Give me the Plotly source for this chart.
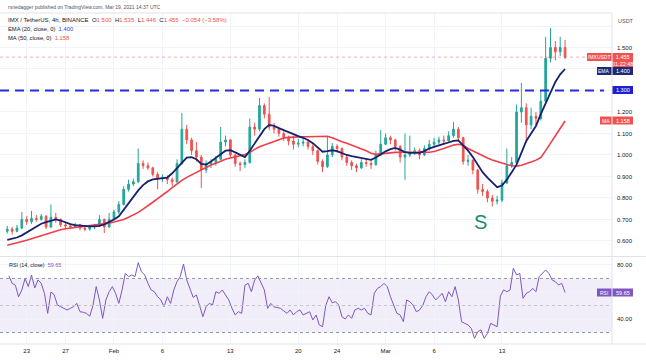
import plotly.graph_objects as go
import pandas as pd

# ---------------- data ----------------
candle_start = "2021-01-21 00:00"   # 12h candles
open_ = [0.645, 0.655, 0.645, 0.66, 0.70, 0.69, 0.705, 0.70, 0.715, 0.665,
         0.71, 0.70, 0.675, 0.67, 0.665, 0.675, 0.66, 0.655, 0.665, 0.67,
         0.70, 0.665, 0.70, 0.735, 0.77, 0.84, 0.865, 0.875, 0.96, 0.95,
         0.94, 0.91, 0.89, 0.895, 0.885, 0.875, 0.96, 1.12, 1.07, 1.02,
         0.99, 0.93, 0.96, 0.965, 0.98, 1.06, 1.07, 1.00, 0.96, 0.955,
         0.965, 1.13, 1.12, 1.23, 1.19, 1.13, 1.12, 1.10, 1.08, 1.065,
         1.05, 1.055, 1.06, 1.04, 1.02, 0.97, 0.945, 1.00, 1.04, 1.03,
         0.99, 0.965, 0.95, 0.94, 0.965, 0.96, 0.955, 1.00, 1.05, 1.08,
         1.07, 1.04, 0.99, 1.00, 1.01, 1.02, 1.00, 1.03, 1.05, 1.06,
         1.07, 1.065, 1.09, 1.12, 1.08, 0.97, 0.975, 0.93, 0.84, 0.83,
         0.80, 0.785, 0.79, 0.87, 0.95, 0.965, 1.20, 1.22, 1.14, 1.18,
         1.17, 1.25, 1.45, 1.50, 1.48, 1.50]
close = [0.655, 0.645, 0.66, 0.70, 0.69, 0.705, 0.70, 0.715, 0.665, 0.71,
         0.70, 0.675, 0.67, 0.665, 0.675, 0.66, 0.655, 0.665, 0.67, 0.70,
         0.665, 0.70, 0.735, 0.77, 0.84, 0.865, 0.875, 0.96, 0.95, 0.94,
         0.91, 0.89, 0.895, 0.885, 0.875, 0.96, 1.12, 1.07, 1.02, 0.99,
         0.93, 0.96, 0.965, 0.98, 1.06, 1.07, 1.00, 0.96, 0.955, 0.965,
         1.13, 1.12, 1.23, 1.19, 1.13, 1.12, 1.10, 1.08, 1.065, 1.05,
         1.055, 1.06, 1.04, 1.02, 0.97, 0.945, 1.00, 1.04, 1.03, 0.99,
         0.965, 0.95, 0.94, 0.965, 0.96, 0.955, 1.00, 1.05, 1.08, 1.07,
         1.04, 0.99, 1.00, 1.01, 1.02, 1.00, 1.03, 1.05, 1.06, 1.07,
         1.065, 1.09, 1.12, 1.08, 0.97, 0.975, 0.93, 0.84, 0.83, 0.80,
         0.785, 0.79, 0.87, 0.95, 0.965, 1.20, 1.22, 1.14, 1.18, 1.17,
         1.25, 1.45, 1.50, 1.48, 1.50, 1.455]
high = [0.67, 0.665, 0.675, 0.735, 0.715, 0.74, 0.72, 0.725, 0.72, 0.77,
        0.73, 0.705, 0.685, 0.68, 0.685, 0.68, 0.668, 0.675, 0.68, 0.72,
        0.705, 0.73, 0.745, 0.785, 0.855, 0.885, 0.89, 1.03, 0.975, 0.965,
        0.945, 0.92, 0.91, 0.905, 0.895, 0.98, 1.195, 1.14, 1.08, 1.06,
        1.0, 0.975, 0.98, 0.995, 1.13, 1.09, 1.075, 1.005, 0.97, 0.98,
        1.17, 1.15, 1.265, 1.24, 1.27, 1.15, 1.13, 1.11, 1.09, 1.09,
        1.075, 1.085, 1.07, 1.05, 1.025, 0.98, 1.084, 1.056, 1.05, 1.035,
        1.0, 0.975, 0.96, 0.98, 0.985, 0.975, 1.02, 1.116, 1.10, 1.09,
        1.075, 1.045, 1.10, 1.09, 1.035, 1.03, 1.045, 1.07, 1.08, 1.085,
        1.09, 1.11, 1.153, 1.13, 1.085, 1.0, 0.98, 0.935, 0.865, 0.84,
        0.815, 0.81, 0.885, 1.03, 0.99, 1.235, 1.335, 1.24, 1.22, 1.20,
        1.30, 1.55, 1.59, 1.53, 1.55, 1.535]
low = [0.635, 0.63, 0.64, 0.655, 0.675, 0.68, 0.69, 0.695, 0.655, 0.66,
       0.685, 0.665, 0.66, 0.655, 0.66, 0.65, 0.645, 0.648, 0.655, 0.665,
       0.637, 0.66, 0.695, 0.725, 0.765, 0.83, 0.855, 0.87, 0.935, 0.93,
       0.90, 0.84, 0.875, 0.865, 0.855, 0.87, 0.955, 1.05, 1.0, 0.97,
       0.846, 0.915, 0.94, 0.95, 0.975, 1.04, 0.985, 0.945, 0.925, 0.94,
       0.96, 1.09, 1.11, 1.17, 1.115, 1.10, 1.085, 1.065, 1.045, 1.025,
       1.035, 1.04, 1.025, 1.0, 0.955, 0.92, 0.94, 0.99, 1.01, 0.975,
       0.95, 0.93, 0.92, 0.935, 0.945, 0.935, 0.95, 0.995, 1.045, 1.05,
       1.02, 0.965, 0.884, 0.99, 1.0, 0.98, 0.995, 1.02, 1.04, 1.05,
       1.05, 1.06, 1.08, 1.06, 0.955, 0.95, 0.91, 0.82, 0.81, 0.78,
       0.76, 0.77, 0.78, 0.865, 0.94, 0.96, 1.15, 1.056, 1.12, 1.14,
       1.16, 1.24, 1.43, 1.44, 1.46, 1.446]
ema20 = [0.605, 0.61, 0.616, 0.626, 0.64, 0.655, 0.668, 0.68, 0.688, 0.695,
         0.70, 0.695, 0.685, 0.678, 0.674, 0.671, 0.67, 0.668, 0.668, 0.67,
         0.677, 0.688, 0.70, 0.715, 0.745, 0.778, 0.808, 0.835, 0.86, 0.877,
         0.886, 0.889, 0.89, 0.895, 0.915, 0.94, 0.965, 0.988, 0.99, 0.98,
         0.958, 0.955, 0.97, 0.985, 1.003, 1.02, 1.022, 1.012, 1.0, 0.99,
         1.02, 1.055, 1.09, 1.12, 1.14, 1.135, 1.125, 1.115, 1.105, 1.097,
         1.088, 1.08, 1.07, 1.055, 1.035, 1.015, 1.018, 1.022, 1.018, 1.008,
         1.0, 0.995, 0.99, 0.985, 0.98, 0.977, 0.988, 1.003, 1.017, 1.027,
         1.033, 1.025, 1.013, 1.01, 1.01, 1.01, 1.018, 1.03, 1.038, 1.046,
         1.052, 1.058, 1.066, 1.068, 1.045, 1.02, 0.99, 0.955, 0.92, 0.895,
         0.87, 0.85, 0.858, 0.885, 0.92, 0.955, 1.01, 1.065, 1.10, 1.135,
         1.19, 1.24, 1.295, 1.34, 1.375, 1.40]
ma50 = [0.58, 0.585, 0.59, 0.597, 0.603, 0.61, 0.617, 0.625, 0.632, 0.64,
        0.647, 0.652, 0.657, 0.66, 0.663, 0.665, 0.668, 0.67, 0.672, 0.675,
        0.678, 0.683, 0.688, 0.693, 0.70, 0.71, 0.72, 0.733, 0.748, 0.762,
        0.78, 0.797, 0.812, 0.83, 0.848, 0.866, 0.882, 0.896, 0.908, 0.92,
        0.93, 0.942, 0.953, 0.962, 0.972, 0.98, 0.986, 0.99, 0.996, 1.002,
        1.012, 1.026, 1.038, 1.046, 1.055, 1.063, 1.072, 1.079, 1.082, 1.084,
        1.085, 1.085, 1.085, 1.086, 1.087, 1.088, 1.087, 1.08, 1.07, 1.062,
        1.054, 1.046, 1.038, 1.03, 1.02, 1.008, 1.003, 1.005, 1.008, 1.01,
        1.012, 1.013, 1.013, 1.012, 1.011, 1.01, 1.011, 1.013, 1.016, 1.022,
        1.03, 1.038, 1.046, 1.05, 1.045, 1.03, 1.018, 1.007, 0.996, 0.986,
        0.977, 0.969, 0.962, 0.956, 0.95, 0.948, 0.952, 0.958, 0.967, 0.976,
        0.988, 1.02, 1.055, 1.088, 1.125, 1.158]

rsi_start = "2021-01-21 04:00"   # 8h steps
rsi14 = [71.9, 66.4, 65, 56.5, 61.5, 70, 64, 72.6, 63, 68.9,
         66.4, 59, 44.2, 60, 58, 50.4, 49.1, 48, 46.7, 47.9,
         49.1, 51.6, 45.4, 45, 44.2, 42, 50, 64, 54, 40.5,
         54.1, 60.2, 64, 59, 51.6, 61.5, 73.8, 71.4, 72.6, 71.4,
         81.7, 75, 72.6, 66.4, 61.5, 60.2, 56.5, 54.1, 49.1, 56.5,
         51.6, 61.5, 67.7, 71.4, 80.7, 68.9, 62.7, 56, 57.8, 50.4,
         41.7, 49.1, 51.6, 50.4, 60.2, 59, 61.5, 57.8, 54.1, 47.9,
         43, 45.4, 44.2, 65, 66.4, 60.2, 68.9, 71.9, 66.4, 61.5,
         47.9, 51.6, 49, 48.5, 47.9, 46, 44.2, 46.7, 43, 45.4,
         46.7, 43, 44, 45.4, 39.3, 43, 35.6, 34.3, 50, 56.5,
         52, 52.8, 50.4, 41.7, 40, 43, 40.5, 46.7, 47.9, 46.7,
         47.9, 44.2, 43, 59, 62.7, 64, 66.4, 64, 56.5, 50.4,
         44.2, 43, 38, 54.1, 52.8, 50.4, 45.4, 46.7, 50, 56.5,
         60.2, 57.8, 54.1, 56.5, 59, 52.8, 60.2, 56.5, 64, 54.1,
         38, 36.8, 35.6, 33.1, 25.7, 30.6, 31.9, 25.7, 29.4, 36.8,
         35.6, 34.3, 57, 61.5, 60.2, 61.5, 77.5, 72.6, 73.8, 55.3,
         59, 60.2, 62.7, 60.2, 71.4, 73.8, 76.3, 73.8, 68.9, 67.7,
         65.2, 66.4, 59.65]

date_ticks = ["2021-01-23", "2021-01-27", "2021-02-01", "2021-02-06", "2021-02-13",
              "2021-02-20", "2021-02-24", "2021-03-01", "2021-03-06", "2021-03-13"]
date_labels = ["23", "27", "Feb", "6", "13", "20", "24", "Mar", "6", "13"]
price_ticks = [0.6, 0.7, 0.8, 0.9, 1.0, 1.1, 1.2, 1.3, 1.4, 1.5, 1.6]
price_labels = ["0.600", "0.700", "0.800", "0.900", "1.000", "1.100", "1.200", "", "", "1.500", ""]
rsi_ticks = [40, 60, 80]
rsi_labels = ["40.00", "", "80.00"]
resistance = 1.30
last_price = 1.455
ema_last, ma_last, rsi_last = 1.400, 1.158, 59.65
s_label_time, s_label_price = "2021-03-10 20:00", 0.688

# ---------------- figure ----------------
W, H = 646, 362
def px(x):
    return x / W
def py(y):
    return 1 - y / H

times = pd.date_range(candle_start, periods=len(close), freq="12h")
rsi_times = pd.date_range(rsi_start, periods=len(rsi14), freq="8h")

UP, DOWN = "#26a69a", "#ef5350"
EMA_C, MA_C, RSI_C = "#16226e", "#ef3e4a", "#7e57c2"
FONT = "Liberation Sans, Arial, sans-serif"
TXT = "#131722"
GRID = "#f0f3fa"

fig = go.Figure()
fig.add_trace(go.Candlestick(
    x=times, open=open_, high=high, low=low, close=close,
    increasing=dict(line=dict(color=UP, width=1), fillcolor=UP),
    decreasing=dict(line=dict(color=DOWN, width=1), fillcolor=DOWN),
    whiskerwidth=0, xaxis="x", yaxis="y", hoverinfo="skip"))
fig.add_trace(go.Scatter(x=times, y=ma50, mode="lines",
                         line=dict(color=MA_C, width=1.6), xaxis="x", yaxis="y"))
fig.add_trace(go.Scatter(x=times, y=ema20, mode="lines",
                         line=dict(color=EMA_C, width=1.8), xaxis="x", yaxis="y"))
fig.add_trace(go.Scatter(x=rsi_times, y=rsi14, mode="lines",
                         line=dict(color=RSI_C, width=1), xaxis="x2", yaxis="y2"))

x_range = ["2021-01-20 06:00", "2021-03-24 08:10"]
xr = px(612)
common_x = dict(range=x_range, type="date", tickvals=date_ticks, showgrid=True,
                gridcolor=GRID, gridwidth=1, zeroline=False, showline=False,
                domain=[0, xr], fixedrange=True)

fig.update_layout(
    width=W, height=H, margin=dict(l=0, r=0, t=0, b=0),
    paper_bgcolor="white", plot_bgcolor="white", showlegend=False,
    hovermode=False, boxgap=0.5,
    xaxis=dict(**common_x, anchor="y", showticklabels=False,
               rangeslider=dict(visible=False)),
    xaxis2=dict(**common_x, anchor="y2", ticktext=date_labels, ticks="",
                tickfont=dict(family=FONT, size=6, color=TXT), ticklabelstandoff=2),
    yaxis=dict(domain=[py(256), py(13)], range=[0.530, 1.6605], side="right",
               anchor="x", tickvals=price_ticks, ticktext=price_labels, ticks="",
               tickfont=dict(family=FONT, size=6, color=TXT), showgrid=True,
               gridcolor=GRID, zeroline=False, ticklabelstandoff=4, fixedrange=True),
    yaxis2=dict(domain=[py(344), py(257)], range=[21.5, 85.9], side="right",
                anchor="x2", tickvals=rsi_ticks, ticktext=rsi_labels, ticks="",
                tickfont=dict(family=FONT, size=6, color=TXT), showgrid=True,
                gridcolor=GRID, zeroline=False, ticklabelstandoff=4, fixedrange=True),
)

shapes = []
# RSI band
shapes.append(dict(type="rect", xref="paper", yref="y2", x0=0, x1=xr, y0=30, y1=70,
                   fillcolor="rgba(126,87,194,0.10)", line=dict(width=0), layer="below"))
for lvl, col in [(70, "#9598a1"), (50, "#c3c5cc"), (30, "#9598a1")]:
    shapes.append(dict(type="line", xref="paper", yref="y2", x0=0, x1=xr, y0=lvl, y1=lvl,
                       line=dict(color=col, width=1, dash="3px,3px")))
# resistance dashed line
shapes.append(dict(type="line", xref="paper", yref="y", x0=0, x1=px(604),
                   y0=resistance, y1=resistance,
                   line=dict(color="#2a2ae0", width=2, dash="9px,6px")))
# last price dotted line
shapes.append(dict(type="line", xref="paper", yref="y", x0=0, x1=xr,
                   y0=last_price, y1=last_price,
                   line=dict(color="rgba(239,83,80,0.45)", width=1, dash="dot")))
# pane borders
for y0, y1, x0, x1 in [(13, 13, 0, xr), (256.5, 256.5, 0, 1), (344, 344, 0, 1)]:
    shapes.append(dict(type="line", xref="paper", yref="paper", x0=x0, x1=x1,
                       y0=py(y0), y1=py(y1), line=dict(color="#e0e3eb", width=1)))
shapes.append(dict(type="line", xref="paper", yref="paper", x0=xr, x1=xr,
                   y0=py(13), y1=py(344), line=dict(color="#e0e3eb", width=1)))

annotations = []
def box(x0, x1, ycen, h, color, text, size=5.5):
    shapes.append(dict(type="rect", xref="paper", yref="paper", x0=px(x0), x1=px(x1),
                       y0=py(ycen + h / 2), y1=py(ycen - h / 2), fillcolor=color,
                       line=dict(width=0)))
    annotations.append(dict(xref="paper", yref="paper", x=px((x0 + x1) / 2), y=py(ycen),
                            text=text, showarrow=False, xanchor="center", yanchor="middle",
                            font=dict(family=FONT, size=size, color="white")))

box(587, 611.5, 57, 8, "#ef5350", "IMXUSDT", 5)
box(612.5, 633, 60, 14, "#ef5350", "%.3f<br>01:22:48" % last_price, 5.5)
box(597, 611.5, 71, 8, "#1c2a78", "EMA", 5)
box(612.5, 633, 71, 8, "#1c2a78", "%.3f" % ema_last)
box(612.5, 633, 90, 8, "#1f1fd0", "%.3f" % resistance)
box(600, 611.5, 120.5, 8, "#ef5350", "MA", 5)
box(612.5, 633, 120.5, 8, "#ef5350", "%.3f" % ma_last)
box(597, 611.5, 292.5, 8, RSI_C, "RSI", 5)
box(612.5, 633, 292.5, 8, RSI_C, "%.2f" % rsi_last)

def red(t):
    return '<span style="color:#ef5350">%s</span>' % t

def text(x, y, t, size=5.5, color=TXT, anchor="left"):
    annotations.append(dict(xref="paper", yref="paper", x=px(x), y=py(y), text=t,
                            showarrow=False, xanchor=anchor, yanchor="middle",
                            font=dict(family=FONT, size=size, color=color)))

text(6, 7.5, "rsnedagger published on TradingView.com, Mar 19, 2021 14:37 UTC", 5.0, "#50535e")
text(6, 20, "IMX / TetherUS, 4h, BINANCE  O" + red("1.500") + "  H" + red("1.535") +
     "  L" + red("1.446") + "  C" + red("1.455") + "  " + red("−0.054 (−3.58%)"), 6.0)
text(6, 29, 'EMA (20, close, 0)  <span style="color:#2a49d8">%.3f</span>' % ema_last, 5.8)
text(6, 38, "MA (50, close, 0)  " + red("%.3f" % ma_last), 5.8)
text(7, 265, 'RSI (14, close)  <span style="color:#7e57c2">%.2f</span>' % rsi_last, 5.4)
text(616, 21, "USDT", 5.5, "#50535e")

annotations.append(dict(xref="x", yref="y", x=s_label_time, y=s_label_price, text="S",
                        showarrow=False, xanchor="center", yanchor="middle",
                        font=dict(family=FONT, size=20, color="#1d8c6c")))

fig.update_layout(shapes=shapes, annotations=annotations)
fig.write_html("out.html", config={"displayModeBar": False, "staticPlot": True},
               post_script="document.body.style.margin='0';document.body.style.overflow='hidden';")
